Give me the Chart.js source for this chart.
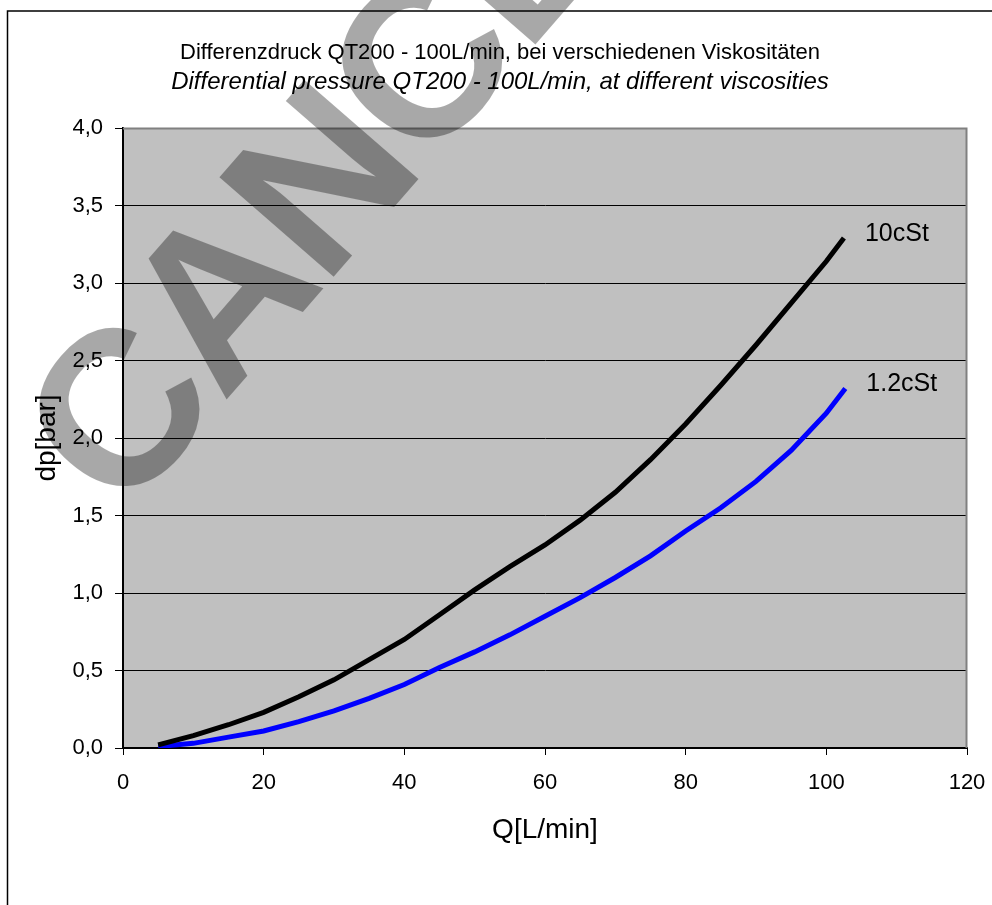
<!DOCTYPE html>
<html>
<head>
<meta charset="utf-8">
<script src="https://cdn.jsdelivr.net/npm/chart.js@4.4.1/dist/chart.umd.min.js"></script>
<style>
  html, body { margin: 0; padding: 0; background: #fff; }
  #wrap { width: 992px; height: 905px; }
</style>
</head>
<body>
<div id="wrap"><canvas id="chart" width="992" height="905"></canvas></div>
<script>
const titleDe = 'Differenzdruck QT200 - 100L/min, bei verschiedenen Viskositäten'
const titleEn = 'Differential pressure QT200 - 100L/min, at different viscosities'
const xTitle = 'Q[L/min]'
const yTitle = 'dp[bar]'
const stamp = 'CANCELLED'
const seriesNames = ['10cSt', '1.2cSt']

// 10 cSt curve
const flow10 = [5, 10, 15, 20, 25, 30, 35, 40, 45, 50, 55, 60, 65, 70, 75, 80, 85, 90, 95, 100, 102.5]
const dp10 = [0.02, 0.08, 0.15, 0.23, 0.33, 0.44, 0.57, 0.70, 0.86, 1.02, 1.17, 1.31, 1.47, 1.65, 1.86, 2.09, 2.34, 2.60, 2.87, 3.14, 3.29]

// 1.2 cSt curve
const flow12 = [5, 10, 15, 20, 25, 30, 35, 40, 45, 50, 55, 60, 65, 70, 75, 80, 85, 90, 95, 100, 102.7]
const dp12 = [0.01, 0.03, 0.07, 0.11, 0.17, 0.24, 0.32, 0.41, 0.52, 0.62, 0.73, 0.85, 0.97, 1.10, 1.24, 1.40, 1.55, 1.72, 1.92, 2.16, 2.32]

const xTicks = [0, 20, 40, 60, 80, 100, 120]
const yTickLabels = ['0,0', '0,5', '1,0', '1,5', '2,0', '2,5', '3,0', '3,5', '4,0']

const font = 'Liberation Sans, Arial, sans-serif'

const toPoints = (xs, ys) => xs.map((x, i) => ({ x, y: ys[i] }))

const plotFrame = {
  id: 'plotFrame',
  beforeDraw(chart) {
    const { ctx, chartArea: a } = chart
    ctx.save()
    ctx.fillStyle = '#fff'
    ctx.fillRect(0, 0, chart.width, chart.height)
    ctx.fillStyle = '#c0c0c0'
    ctx.fillRect(a.left, a.top, a.right - a.left, a.bottom - a.top)
    ctx.strokeStyle = '#000'
    ctx.lineWidth = 1.5
    ctx.beginPath()
    ctx.moveTo(7.5, chart.height)
    ctx.lineTo(7.5, 11)
    ctx.lineTo(chart.width, 11)
    ctx.stroke()
    ctx.restore()
  },
  beforeDatasetsDraw(chart) {
    const { ctx, chartArea: a } = chart
    ctx.save()
    ctx.strokeStyle = '#808080'
    ctx.lineWidth = 2
    ctx.beginPath()
    ctx.moveTo(a.left, a.top + 0.5)
    ctx.lineTo(a.right - 0.5, a.top + 0.5)
    ctx.lineTo(a.right - 0.5, a.bottom)
    ctx.stroke()
    ctx.restore()
  },
  afterDatasetsDraw(chart) {
    const { ctx } = chart
    const xs = chart.scales.x, ys = chart.scales.y
    ctx.save()
    ctx.fillStyle = '#000'
    ctx.font = '25px ' + font
    ctx.textBaseline = 'alphabetic'
    chart.data.datasets.forEach((ds, i) => {
      const last = ds.data[ds.data.length - 1]
      const px = xs.getPixelForValue(last.x)
      const py = ys.getPixelForValue(last.y)
      ctx.fillText(seriesNames[i], px + 21, py + 3)
    })
    ctx.restore()
  },
  afterDraw(chart) {
    // diagonal stamp over the whole sheet
    const { ctx } = chart
    ctx.save()
    ctx.translate(122, 520)
    ctx.rotate(-49 * Math.PI / 180)
    ctx.fillStyle = 'rgba(0,0,0,0.34)'
    ctx.font = 'bold 220px ' + font
    ctx.letterSpacing = '-5px'
    ctx.textBaseline = 'alphabetic'
    ctx.fillText(stamp, 0, 0)
    ctx.restore()
  }
}

new Chart(document.getElementById('chart'), {
  type: 'scatter',
  data: {
    datasets: [
      { label: seriesNames[0], data: toPoints(flow10, dp10), borderColor: '#000', borderWidth: 5 },
      { label: seriesNames[1], data: toPoints(flow12, dp12), borderColor: '#0000ff', borderWidth: 5 }
    ]
  },
  options: {
    responsive: false,
    animation: false,
    devicePixelRatio: 1,
    showLine: true,
    elements: { point: { radius: 0 }, line: { tension: 0, borderCapStyle: 'butt', borderWidth: 5 } },
    layout: { padding: { top: 0, right: 0, bottom: 0, left: 8 } },
    plugins: {
      legend: { display: false },
      tooltip: { enabled: false },
      title: {
        display: true,
        text: titleDe,
        color: '#000',
        font: { family: font, size: 22, weight: 'normal' },
        padding: { top: 40, bottom: 0 }
      },
      subtitle: {
        display: true,
        text: titleEn,
        color: '#000',
        font: { family: font, size: 24, style: 'italic' },
        padding: { top: 1.2, bottom: 31.6 }
      }
    },
    scales: {
      x: {
        type: 'linear',
        min: xTicks[0],
        max: xTicks[xTicks.length - 1],
        ticks: { stepSize: 20, color: '#000', font: { family: font, size: 22 }, padding: 15, maxRotation: 0 },
        grid: { drawOnChartArea: false, drawTicks: true, tickLength: 7, tickColor: '#000', tickWidth: 1 },
        border: { color: '#000', width: 2 },
        title: { display: true, text: xTitle, color: '#000', font: { family: font, size: 28 }, padding: { top: 0, bottom: 58 } },
        afterFit(scale) {
          scale.height = 157
          scale.paddingLeft = 0
          scale.paddingRight = 25
        }
      },
      y: {
        min: 0,
        max: 4,
        ticks: {
          stepSize: 0.5,
          color: '#000',
          font: { family: font, size: 22 },
          padding: 12,
          callback: (v) => yTickLabels[Math.round(v / 0.5)]
        },
        grid: {
          color: (c) => (c.tick && c.tick.value === 4 ? 'rgba(0,0,0,0)' : '#000'),
          lineWidth: 1,
          tickLength: 8,
          tickColor: '#000'
        },
        border: { color: '#000', width: 2 },
        title: { display: true, text: yTitle, color: '#000', font: { family: font, size: 28 }, padding: { top: 22, bottom: 0 } },
        afterFit(scale) {
          scale.width = 115
          scale.paddingTop = 0
          scale.paddingBottom = 0
        }
      }
    }
  },
  plugins: [plotFrame]
})
</script>
</body>
</html>
